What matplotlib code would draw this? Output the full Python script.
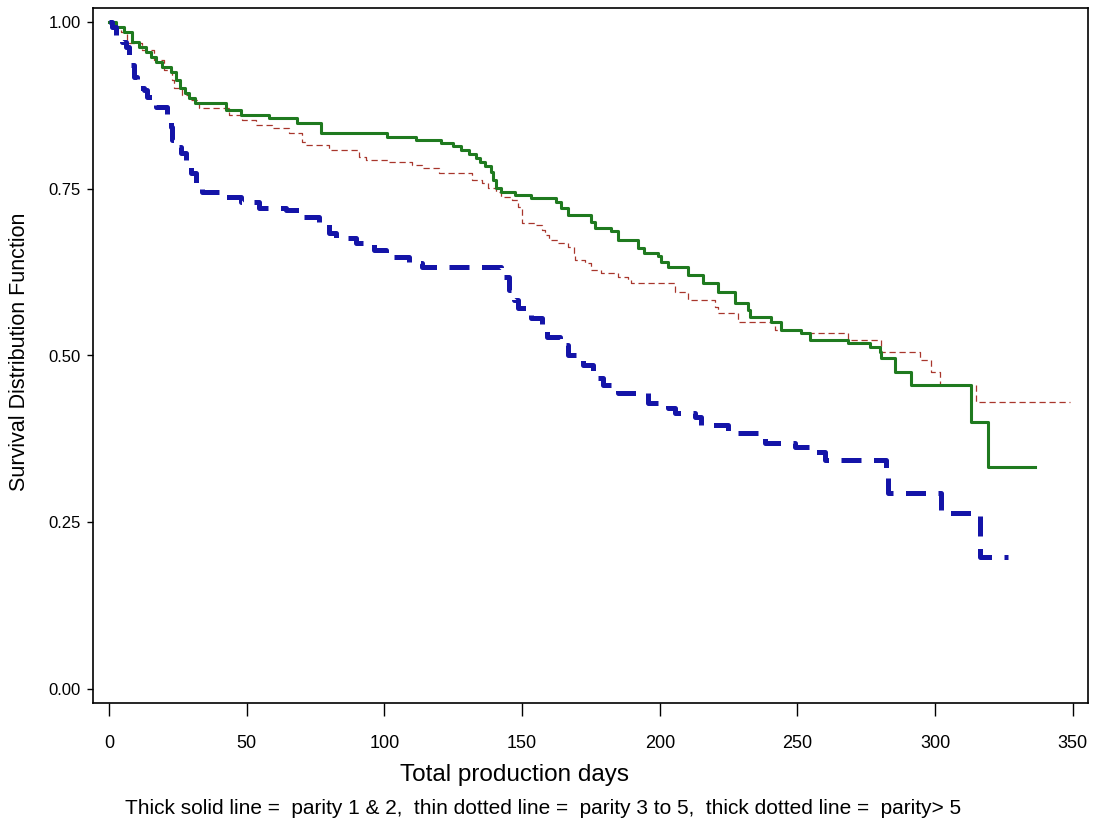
"""
Kaplan-Meier survival curves by parity group (replica of a SAS-style plot).
"""

import matplotlib
matplotlib.use("Agg")
import matplotlib.pyplot as plt

# parity 1 & 2 (thick solid line)
green_days = [0, 2.5, 5.4, 8.3, 10.9, 13.4, 15.2, 17.0, 19.2, 22.5, 24.3, 25.8,
              27.6, 29.0, 31.2, 42.4, 47.9, 58.0, 68.2, 76.9, 100.8, 111.4,
              120.4, 125.1, 127.7, 130.6, 133.1, 134.9, 136.7, 138.6, 139.6,
              140.7, 142.2, 147.6, 153.4, 162.5, 164.3, 166.8, 175.2, 176.6,
              182.4, 185.0, 192.2, 194.1, 199.5, 200.6, 203.1, 210.4, 215.8,
              221.3, 227.4, 232.1, 232.9, 240.5, 244.1, 251.4, 254.6, 268.4,
              276.4, 280.0, 280.4, 285.5, 291.3, 313.0, 319.2, 336.2]
green_surv = [1.000, 0.993, 0.985, 0.970, 0.963, 0.955, 0.948, 0.940, 0.933,
              0.925, 0.913, 0.901, 0.894, 0.886, 0.879, 0.868, 0.861, 0.856,
              0.849, 0.834, 0.828, 0.823, 0.819, 0.814, 0.808, 0.802, 0.796,
              0.790, 0.784, 0.775, 0.763, 0.751, 0.745, 0.741, 0.736, 0.730,
              0.721, 0.711, 0.700, 0.691, 0.687, 0.673, 0.661, 0.654, 0.649,
              0.640, 0.633, 0.621, 0.609, 0.595, 0.579, 0.568, 0.558, 0.550,
              0.538, 0.534, 0.523, 0.519, 0.513, 0.505, 0.496, 0.475, 0.456,
              0.400, 0.333, 0.333]

# parity 3 to 5 (thin dotted line)
red_days = [0, 2.5, 4.4, 6.5, 12.0, 16.3, 19.9, 22.9, 23.6, 26.5, 29.0, 32.6,
            43.5, 48.2, 53.3, 59.1, 65.3, 70.0, 71.5, 79.8, 90.7, 93.2, 101.6,
            109.9, 113.5, 119.7, 131.7, 135.3, 137.8, 140.4, 142.5, 146.2,
            148.7, 149.8, 154.9, 157.1, 158.5, 159.6, 163.2, 166.8, 168.7,
            169.4, 173.0, 175.2, 178.8, 185.0, 188.6, 189.7, 205.7, 210.4,
            220.2, 221.3, 228.5, 241.9, 251.4, 268.4, 280.4, 294.5, 298.5,
            301.8, 314.8, 349.0]
red_surv = [1.000, 0.993, 0.985, 0.969, 0.958, 0.943, 0.928, 0.913, 0.901,
            0.891, 0.883, 0.871, 0.861, 0.853, 0.846, 0.841, 0.834, 0.820,
            0.816, 0.808, 0.798, 0.793, 0.790, 0.786, 0.781, 0.774, 0.763,
            0.759, 0.751, 0.745, 0.738, 0.733, 0.723, 0.699, 0.696, 0.688,
            0.681, 0.673, 0.669, 0.663, 0.654, 0.643, 0.639, 0.628, 0.624,
            0.618, 0.613, 0.609, 0.595, 0.583, 0.573, 0.564, 0.550, 0.538,
            0.534, 0.523, 0.505, 0.493, 0.475, 0.456, 0.430, 0.430]

# parity > 5 (thick dotted line)
blue_days = [0, 1.1, 2.5, 4.7, 6.2, 7.3, 8.0, 9.1, 10.2, 12.7, 13.8, 17.0,
             21.0, 22.5, 22.9, 24.3, 26.1, 27.9, 29.7, 31.6, 33.7, 41.0, 47.9,
             54.4, 64.2, 70.0, 76.2, 79.8, 82.3, 89.6, 96.1, 100.5, 108.8,
             113.5, 142.5, 145.1, 146.9, 148.7, 153.4, 157.1, 158.9, 163.9,
             166.8, 172.3, 175.9, 179.5, 185.0, 195.9, 203.1, 205.7, 212.9,
             215.1, 224.9, 238.3, 249.2, 256.4, 260.1, 282.2, 282.9, 302.1,
             316.3, 326.4]
blue_surv = [1.000, 0.993, 0.973, 0.970, 0.963, 0.951, 0.936, 0.918, 0.901,
             0.898, 0.888, 0.873, 0.856, 0.843, 0.823, 0.813, 0.804, 0.789,
             0.774, 0.753, 0.745, 0.738, 0.730, 0.721, 0.718, 0.708, 0.699,
             0.684, 0.676, 0.669, 0.658, 0.648, 0.639, 0.633, 0.618, 0.598,
             0.583, 0.571, 0.556, 0.538, 0.528, 0.516, 0.501, 0.486, 0.466,
             0.456, 0.444, 0.429, 0.421, 0.414, 0.408, 0.396, 0.384, 0.369,
             0.363, 0.355, 0.343, 0.324, 0.294, 0.264, 0.198, 0.198]

x_ticks = [0, 50, 100, 150, 200, 250, 300, 350]
y_ticks = [0.00, 0.25, 0.50, 0.75, 1.00]

plt.rcParams['font.family'] = ['Liberation Sans', 'DejaVu Sans']

fig = plt.figure(figsize=(10.96, 8.30), dpi=100)
ax = fig.add_axes([93 / 1096, 1 - 703 / 830, (1088 - 93) / 1096, (703 - 8) / 830])

ax.plot(red_days, red_surv, drawstyle='steps-post', color='#a8362c',
        lw=0.9, linestyle=(0, (5, 3)), zorder=2)
ax.plot(green_days, green_surv, drawstyle='steps-post', color='#1f7a1f',
        lw=2.2, zorder=3)
ax.plot(blue_days, blue_surv, drawstyle='steps-post', color='#1414a8',
        lw=3.6, linestyle=(0, (4, 2.5)), zorder=4)

ax.set_xlim(-5.8, 355.5)
ax.set_ylim(-0.021, 1.021)
ax.set_xticks(x_ticks)
ax.set_xticklabels([str(v) for v in x_ticks])
ax.set_yticks(y_ticks)
ax.set_yticklabels(['%.2f' % v for v in y_ticks])

ax.tick_params(axis='x', direction='out', length=9, width=1, labelsize=13, pad=14)
ax.tick_params(axis='y', direction='out', length=4, width=1, labelsize=12, pad=5)
for s in ax.spines.values():
    s.set_linewidth(1.2)

# x label sits left of the axes centre in the original
ax.set_xlabel('Total production days', fontsize=17.5, va='center')
ax.xaxis.set_label_coords(514 / 1096, 1 - 775 / 830, transform=fig.transFigure)
ax.set_ylabel('Survival Distribution Function', fontsize=15.5, va='center')
ax.yaxis.set_label_coords(20 / 1096, 1 - 352 / 830, transform=fig.transFigure)

fig.text(543 / 1096, 1 - 808 / 830,
         'Thick solid line =  parity 1 & 2,  thin dotted line =  parity 3 to 5,  '
         'thick dotted line =  parity> 5',
         ha='center', va='center', fontsize=15)

fig.savefig('out.png', dpi=100)
